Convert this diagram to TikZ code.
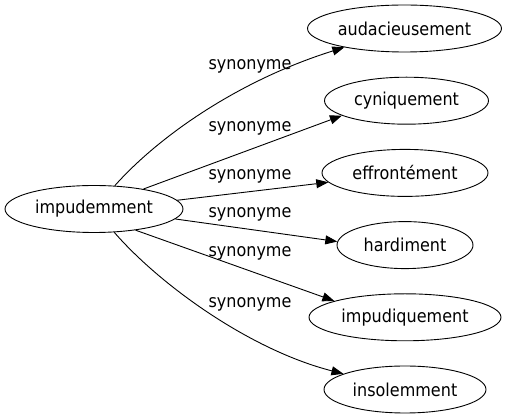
\documentclass[tikz,border=0pt]{standalone}
\usepackage{fontspec}
\setmainfont{DejaVu Sans}[FakeStretch=0.9]
\usetikzlibrary{shapes.geometric,arrows.meta}
\begin{document}
\begin{tikzpicture}[x=1pt,y=-1pt,
  word/.style={draw=black, ellipse, inner sep=0pt, line width=0.9pt,
    font=\fontsize{17.8pt}{20pt}\selectfont},
  rel/.style={anchor=base, inner sep=0pt, font=\fontsize{17.8pt}{20pt}\selectfont},
  link/.style={line width=0.9pt, -{Triangle[length=12pt,width=9pt]}}]
\useasboundingbox (0,0) rectangle (507,419);
\node[word, minimum width=178pt, minimum height=47pt] (src) at (94,209) {impudemment};
\node[word, minimum width=194pt, minimum height=47pt] (a1) at (404.5,28.5) {audacieusement};
\node[word, minimum width=164pt, minimum height=47pt] (a2) at (406.5,100.7) {cyniquement};
\node[word, minimum width=166pt, minimum height=47pt] (a3) at (405,172.9) {effrontément};
\node[word, minimum width=136pt, minimum height=47pt] (a4) at (405,245.1) {hardiment};
\node[word, minimum width=192pt, minimum height=47pt] (a5) at (405,317.3) {impudiquement};
\node[word, minimum width=162pt, minimum height=47pt] (a6) at (405,389.5) {insolemment};
\node[rel] (l1) at (250,70) {synonyme};
\node[rel] (l2) at (250,131.5) {synonyme};
\node[rel] (l3) at (250,179.5) {synonyme};
\node[rel] (l4) at (250,217.5) {synonyme};
\node[rel] (l5) at (250,256.5) {synonyme};
\node[rel] (l6) at (250,308) {synonyme};
\draw[link] (src) .. controls (160,135) and (240,80) .. (a1);
\draw[link] (src.22) -- (a2.193);
\draw[link] (src.6) -- (a3.187);
\draw[link] (src.-7) -- (a4.177);
\draw[link] (src.-27) -- (a5.167);
\draw[link] (src) .. controls (160,285) and (250,350) .. (a6);
\end{tikzpicture}
\end{document}
